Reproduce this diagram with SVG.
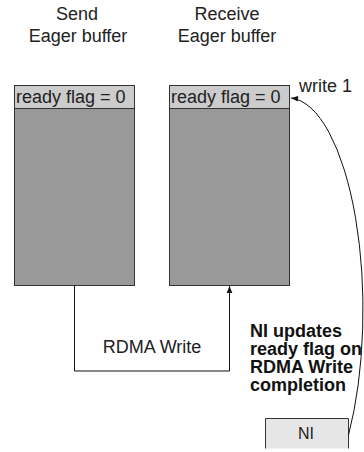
<svg xmlns="http://www.w3.org/2000/svg" width="364" height="452" viewBox="0 0 364 452">
  <style>
    text { font-family: "Liberation Sans", Arial, sans-serif; font-size: 18px; fill: #222; }
    .title { text-anchor: middle; }
    .bold { font-weight: bold; fill: #111; }
    .small { font-size: 16px; }
    .body { fill: #999999; stroke: #333; stroke-width: 1; }
    .head { fill: #cccccc; stroke: #333; stroke-width: 1; }
    .ni { fill: #e6e6e6; }
    .edge { fill: none; stroke: #333; stroke-width: 1; }
    .wire { fill: none; stroke: #111; stroke-width: 1; }
  </style>
  <defs>
    <marker id="arrow" viewBox="0 0 10 10" refX="10" refY="5" markerWidth="8" markerHeight="7" markerUnits="userSpaceOnUse" orient="auto">
      <path d="M0,1 L10,5 L0,9 z" fill="#111"/>
    </marker>
  </defs>
  <rect width="364" height="452" fill="#ffffff"/>

  <!-- sender side buffer -->
  <g id="send-buffer">
    <text class="title" x="77" y="20">Send</text>
    <text class="title" x="78" y="42">Eager buffer</text>
    <rect class="body" x="14.5" y="85.5" width="120" height="200"/>
    <rect class="head" x="14.5" y="85.5" width="120" height="23"/>
    <text x="16" y="103">ready flag = 0</text>
  </g>

  <!-- receiver side buffer -->
  <g id="recv-buffer">
    <text class="title" x="227" y="20">Receive</text>
    <text class="title" x="227" y="42">Eager buffer</text>
    <rect class="body" x="169.5" y="85.5" width="120" height="200"/>
    <rect class="head" x="169.5" y="85.5" width="120" height="23"/>
    <text x="171" y="103">ready flag = 0</text>
  </g>

  <!-- network interface (runs off the lower edge) -->
  <g id="ni">
    <rect class="ni" x="265.5" y="418.5" width="83" height="30"/>
    <path class="edge" d="M265.5,448.5 V418.5 H348.5 V448.5"/>
    <text class="title small" x="306" y="439">NI</text>
  </g>

  <!-- connectors -->
  <g id="connectors">
    <path class="wire" d="M74.5,285.5 V371 H229.5 V286" marker-end="url(#arrow)"/>
    <path class="wire" d="M348.5,435 A75,212 0 0 0 291,98" marker-end="url(#arrow)"/>
  </g>

  <!-- labels -->
  <g id="labels">
    <text class="title" x="152" y="353">RDMA Write</text>
    <text x="299" y="92">write 1</text>
    <text class="bold" x="250" y="337">NI updates</text>
    <text class="bold" x="250" y="355">ready flag on</text>
    <text class="bold" x="250" y="373">RDMA Write</text>
    <text class="bold" x="250" y="391">completion</text>
  </g>
</svg>
